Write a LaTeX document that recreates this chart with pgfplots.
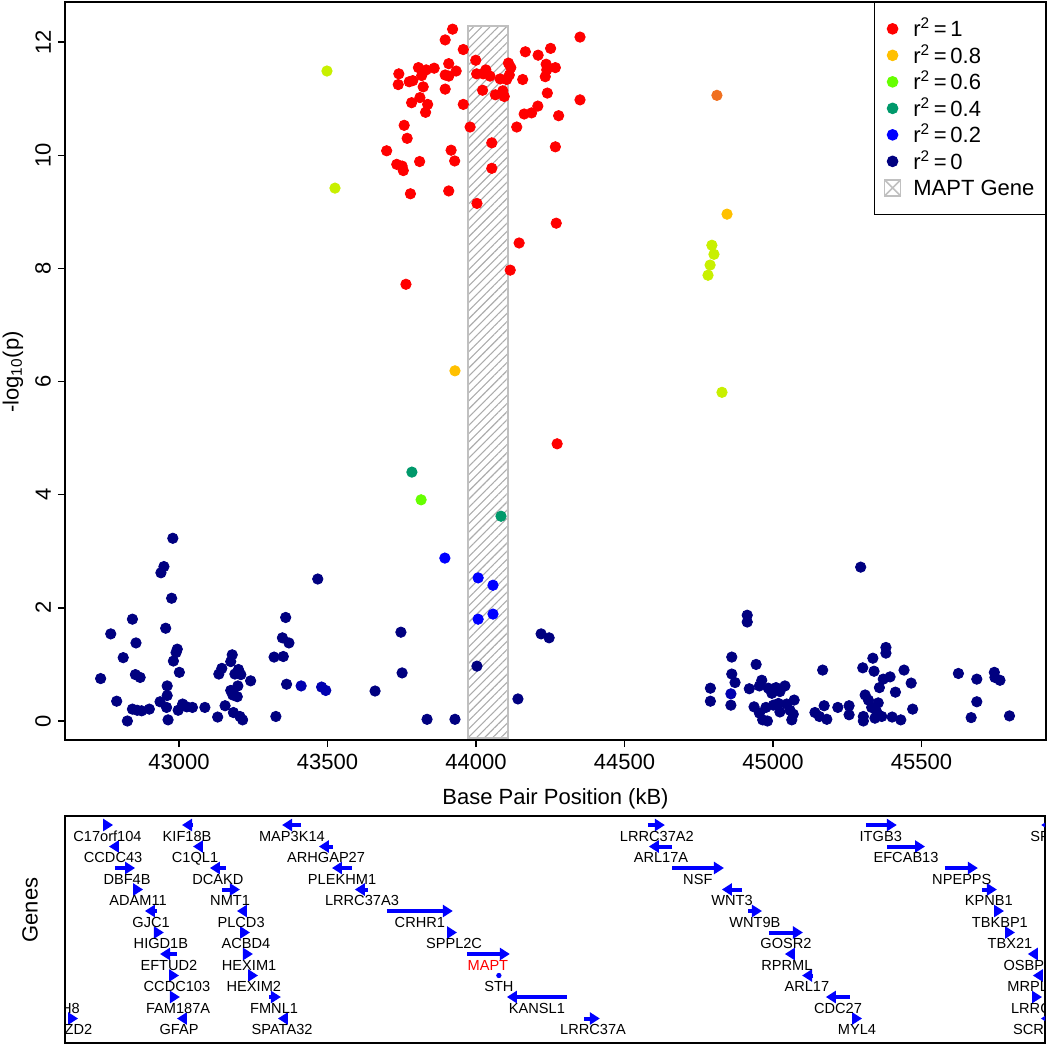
\documentclass[border=0pt]{standalone}
\usepackage{fontspec}
\setmainfont{Liberation Sans}
\usepackage{pgfplots}
\usepackage{pgfplotstable}
\pgfplotsset{compat=1.18}
\usetikzlibrary{arrows.meta,patterns.meta}
\definecolor{cR}{HTML}{FF0000}
\definecolor{cO8}{HTML}{FFC000}
\definecolor{cO9}{HTML}{F07020}
\definecolor{cYG}{HTML}{C8F000}
\definecolor{cG6}{HTML}{66FF00}
\definecolor{cT4}{HTML}{00996B}
\definecolor{cB2}{HTML}{0000FF}
\definecolor{cLB}{HTML}{0000B0}
\definecolor{cN}{HTML}{000080}
\definecolor{cBox}{HTML}{C0C0C0}
\definecolor{cHatch}{HTML}{ACACAC}
\newcommand{\gf}{\fontsize{7.3pt}{8pt}\selectfont}
\newcommand{\mf}{\fontsize{11pt}{13pt}\selectfont}
\tikzset{gl/.style={font=\gf, anchor=base, yshift=-8.1pt, inner sep=0pt}}

\pgfplotstableread{
x y
43921 12.23
43896 12.04
43957 11.87
44350 12.09
44166 11.83
44209 11.77
44251 11.89
43999 11.68
43806 11.55
43832 11.51
43859 11.54
43908 11.62
43933 11.49
43740 11.44
43817 11.41
43896 11.42
43908 11.40
43738 11.25
43775 11.30
43787 11.32
43822 11.21
43896 11.17
44002 11.44
44033 11.51
44024 11.44
44047 11.40
44081 11.35
44109 11.63
44117 11.55
44112 11.42
44103 11.34
44157 11.34
44236 11.61
44267 11.55
44238 11.51
44233 11.39
44022 11.15
44065 11.07
44090 11.14
44095 11.04
44240 11.10
44350 10.98
43811 11.02
43783 10.93
43837 10.90
43830 10.76
43957 10.90
44208 10.87
44187 10.75
44162 10.73
44278 10.70
43758 10.53
43980 10.50
44137 10.50
43768 10.30
44053 10.22
43699 10.08
43916 10.09
44267 10.15
43733 9.84
43751 9.81
43755 9.73
43810 9.89
43928 9.90
44053 9.77
43779 9.32
43908 9.37
44003 9.15
44270 8.80
44145 8.45
44115 7.97
43764 7.72
44273 4.90
}\red

\pgfplotstableread{
x y
42979 3.23
42949 2.73
42939 2.62
42975 2.17
42843 1.80
42770 1.54
42955 1.64
42855 1.38
42994 1.27
42990 1.21
42812 1.12
42981 1.06
42853 0.82
42869 0.77
43001 0.86
42736 0.75
42960 0.62
42960 0.45
42790 0.35
42843 0.21
42859 0.19
42874 0.18
42900 0.21
42936 0.34
42958 0.24
42997 0.19
43012 0.30
43026 0.25
43045 0.24
43087 0.24
42826 0.00
42963 0.02
43130 0.07
43155 0.27
43183 0.15
43205 0.08
43214 0.02
43134 0.83
43144 0.93
43174 1.05
43179 1.17
43188 0.83
43200 0.91
43208 0.82
43241 0.71
43198 0.62
43174 0.54
43181 0.46
43196 0.43
43326 0.08
43320 1.13
43351 1.14
43359 1.83
43348 1.47
43370 1.38
43362 0.65
43467 2.51
43660 0.53
43747 1.57
43751 0.85
43835 0.03
43929 0.03
44003 0.97
44141 0.39
44219 1.54
44246 1.47
45295 2.72
44913 1.87
44913 1.75
44861 1.13
44943 1.00
44861 0.83
44872 0.68
44789 0.58
44789 0.35
44858 0.28
44920 0.57
44962 0.72
44954 0.62
44984 0.58
45010 0.59
45040 0.62
44996 0.49
45023 0.52
45071 0.37
44936 0.25
44976 0.24
45001 0.28
45018 0.31
45046 0.30
45057 0.19
44954 0.14
44965 0.02
44981 0.00
45023 0.16
45068 0.12
45063 0.02
45167 0.90
45172 0.27
45141 0.15
45156 0.08
45181 0.03
45218 0.24
45256 0.27
45256 0.11
45302 0.94
45336 1.11
45340 0.88
45380 1.30
45380 1.20
45394 0.78
45371 0.74
45358 0.59
45310 0.46
45321 0.37
45354 0.32
45332 0.24
45349 0.16
45304 0.08
45304 0.00
45343 0.05
45366 0.08
45401 0.07
45430 0.02
45412 0.51
45441 0.90
45465 0.67
45470 0.21
45624 0.84
45686 0.74
45686 0.34
45667 0.06
45745 0.86
45747 0.77
45764 0.72
45796 0.09
}\navy

\pgfplotstableread{
tail head row
42744 42778 1
43047 43010 1
43411 43347 1
44579 44636 1
45313 45417 1
45933 45903 1
42798 42764 2
43077 43047 2
43518 43471 2
44660 44582 2
45384 45512 2
42784 42852 3
43158 43104 3
43582 43515 3
44660 44835 3
45579 45690 3
42845 42879 4
43145 43205 4
43636 43592 4
44896 44828 4
45704 45754 4
42926 42885 5
43225 43195 5
43700 43922 5
44916 44963 5
45747 45778 5
42916 42949 6
43205 43239 6
43902 43936 6
44986 45101 6
45781 45815 6
42993 42936 7
43215 43249 7
43970 44114 7
45071 45040 7
45889 45858 7
42970 43000 8
43232 43266 8
45135 45098 8
45906 45875 8
42973 43003 9
43303 43343 9
44306 44104 9
45259 45178 9
45872 45906 9
42630 42660 10
43020 42993 10
43367 43333 10
44364 44417 10
45266 45300 10
45932 45902 10
}\genes

\begin{document}
\begin{tikzpicture}
\useasboundingbox (0,0) rectangle (523.5pt,-525pt);
\begin{axis}[
  at={(32.5pt,-1pt)}, anchor=north west,
  scale only axis, width=490.5pt, height=369pt,
  xmin=42616, xmax=45919, ymin=-0.336, ymax=12.71,
  axis line style={line width=0.75pt},
  every tick/.style={black, line width=0.75pt},
  tick align=outside, major tick length=3.5pt, tick pos=left,
  xtick={43000,43500,44000,44500,45000,45500},
  ytick={0,2,4,6,8,10,12},
  scaled ticks=false,
  /pgf/number format/assume math mode=true,
  /pgf/number format/1000 sep={},
  tick label style={font=\mf},
  yticklabel style={rotate=90, anchor=south},
  clip mode=individual,
  legend style={at={(1,1)}, anchor=north east, draw=black, line width=0.6pt,
    font=\mf, inner xsep=4.5pt, inner ysep=6.5pt, row sep=0pt,
    nodes={inner xsep=1pt, inner ysep=1.2pt}},
  legend cell align=left,
]
\addplot[forget plot, draw=cBox, line width=1pt,
  pattern={Lines[angle=45,distance=2.9pt,line width=0.55pt]}, pattern color=cHatch]
  coordinates {(43973,-0.30) (44108,-0.30) (44108,12.29) (43973,12.29)} -- cycle;
\addplot[forget plot, only marks, mark=*, mark size=2.6pt, color=cN] table {\navy};
\addplot[forget plot, only marks, mark=*, mark size=2.6pt, color=cLB] coordinates {(44858,0.48) (43411,0.62) (43480,0.60) (43494,0.54)};
\addplot[forget plot, only marks, mark=*, mark size=2.6pt, color=cB2] coordinates {(43895,2.88) (44007,2.53) (44057,2.40) (44057,1.89) (44007,1.80)};
\addplot[forget plot, only marks, mark=*, mark size=2.6pt, color=cT4] coordinates {(43784,4.40) (44084,3.62)};
\addplot[forget plot, only marks, mark=*, mark size=2.6pt, color=cG6] coordinates {(43815,3.91)};
\addplot[forget plot, only marks, mark=*, mark size=2.6pt, color=cYG] coordinates {(43498,11.49) (43525,9.42) (44794,8.41) (44801,8.25) (44788,8.06) (44781,7.88) (44828,5.81)};
\addplot[forget plot, only marks, mark=*, mark size=2.6pt, color=cO8] coordinates {(43929,6.19) (44845,8.96)};
\addplot[forget plot, only marks, mark=*, mark size=2.6pt, color=cO9] coordinates {(44811,11.06)};
\addplot[forget plot, only marks, mark=*, mark size=2.6pt, color=cR] table {\red};
\addlegendimage{only marks, mark=*, mark size=2.6pt, color=cR}
\addlegendimage{only marks, mark=*, mark size=2.6pt, color=cO8}
\addlegendimage{only marks, mark=*, mark size=2.6pt, color=cG6}
\addlegendimage{only marks, mark=*, mark size=2.6pt, color=cT4}
\addlegendimage{only marks, mark=*, mark size=2.6pt, color=cB2}
\addlegendimage{only marks, mark=*, mark size=2.6pt, color=cN}
\addlegendimage{legend image code/.code={
  \draw[draw=cBox, line width=0.8pt] (0.3cm-4pt,-4pt) rectangle (0.3cm+4pt,4pt);
  \draw[draw=cBox, line width=0.8pt] (0.3cm-4pt,-4pt) -- (0.3cm+4pt,4pt) (0.3cm-4pt,4pt) -- (0.3cm+4pt,-4pt);}}
\legend{\hspace{5pt}r\textsuperscript{2}\,=\,1, \hspace{5pt}r\textsuperscript{2}\,=\,0.8, \hspace{5pt}r\textsuperscript{2}\,=\,0.6, \hspace{5pt}r\textsuperscript{2}\,=\,0.4, \hspace{5pt}r\textsuperscript{2}\,=\,0.2, \hspace{5pt}r\textsuperscript{2}\,=\,0, \hspace{5pt}\vphantom{r\textsuperscript{2}}MAPT Gene}
\end{axis}

\node[font=\mf, anchor=center] at (277.75pt,-399.5pt) {Base Pair Position (kB)};
\node[font=\mf, anchor=center, rotate=90] at (6.5pt,-186pt) {-log\textsubscript{10}(p)};
\node[font=\mf, anchor=center, rotate=90] at (15pt,-455pt) {Genes};

\begin{axis}[
  at={(32.5pt,-408pt)}, anchor=north west,
  scale only axis, width=490pt, height=113.5pt,
  xmin=42616, xmax=45916, ymin=0.581, ymax=11.14, y dir=reverse,
  axis line style={line width=0.75pt},
  xtick=\empty, ytick=\empty,
]
\addplot[cB2, line width=2pt, -{Triangle[length=5pt,width=6pt]},
  quiver={u=\thisrow{head}-\thisrow{tail}, v=0}] table[x=tail, y=row] {\genes};
\addplot[only marks, mark=*, mark size=1.1pt, color=cB2] coordinates {(44077,8)};
\begin{scope}
\clip (rel axis cs:0,0) rectangle (rel axis cs:1,1);
\node[gl] at (axis cs:42759,1) {C17orf104};
\node[gl] at (axis cs:43027,1) {KIF18B};
\node[gl] at (axis cs:43380,1) {MAP3K14};
\node[gl] at (axis cs:44609,1) {LRRC37A2};
\node[gl] at (axis cs:45363,1) {ITGB3};
\node[gl] at (axis cs:45913,1) {SP6};
\node[gl] at (axis cs:42778,2) {CCDC43};
\node[gl] at (axis cs:43054,2) {C1QL1};
\node[gl] at (axis cs:43495,2) {ARHGAP27};
\node[gl] at (axis cs:44623,2) {ARL17A};
\node[gl] at (axis cs:45448,2) {EFCAB13};
\node[gl] at (axis cs:42825,3) {DBF4B};
\node[gl] at (axis cs:43131,3) {DCAKD};
\node[gl] at (axis cs:43549,3) {PLEKHM1};
\node[gl] at (axis cs:44747,3) {NSF};
\node[gl] at (axis cs:45636,3) {NPEPPS};
\node[gl] at (axis cs:42862,4) {ADAM11};
\node[gl] at (axis cs:43172,4) {NMT1};
\node[gl] at (axis cs:43616,4) {LRRC37A3};
\node[gl] at (axis cs:44862,4) {WNT3};
\node[gl] at (axis cs:45727,4) {KPNB1};
\node[gl] at (axis cs:42906,5) {GJC1};
\node[gl] at (axis cs:43209,5) {PLCD3};
\node[gl] at (axis cs:43811,5) {CRHR1};
\node[gl] at (axis cs:44939,5) {WNT9B};
\node[gl] at (axis cs:45764,5) {TBKBP1};
\node[gl] at (axis cs:42939,6) {HIGD1B};
\node[gl] at (axis cs:43225,6) {ACBD4};
\node[gl] at (axis cs:43926,6) {SPPL2C};
\node[gl] at (axis cs:45044,6) {GOSR2};
\node[gl] at (axis cs:45798,6) {TBX21};
\node[gl] at (axis cs:42966,7) {EFTUD2};
\node[gl] at (axis cs:43236,7) {HEXIM1};
\node[gl, text=cR] at (axis cs:44040,7) {MAPT};
\node[gl] at (axis cs:45047,7) {RPRML};
\node[gl] at (axis cs:45872,7) {OSBPL7};
\node[gl] at (axis cs:42993,8) {CCDC103};
\node[gl] at (axis cs:43252,8) {HEXIM2};
\node[gl] at (axis cs:44077,8) {STH};
\node[gl] at (axis cs:45114,8) {ARL17};
\node[gl] at (axis cs:45885,8) {MRPL10};
\node[gl] at (axis cs:42553,9) {GPATCH8};
\node[gl] at (axis cs:42997,9) {FAM187A};
\node[gl] at (axis cs:43320,9) {FMNL1};
\node[gl] at (axis cs:44205,9) {KANSL1};
\node[gl] at (axis cs:45219,9) {CDC27};
\node[gl] at (axis cs:45896,9) {LRRC46};
\node[gl] at (axis cs:42646,10) {FZD2};
\node[gl] at (axis cs:43000,10) {GFAP};
\node[gl] at (axis cs:43347,10) {SPATA32};
\node[gl] at (axis cs:44394,10) {LRRC37A};
\node[gl] at (axis cs:45283,10) {MYL4};
\node[gl] at (axis cs:45892,10) {SCRN2};
\end{scope}
\end{axis}
\end{tikzpicture}
\end{document}
